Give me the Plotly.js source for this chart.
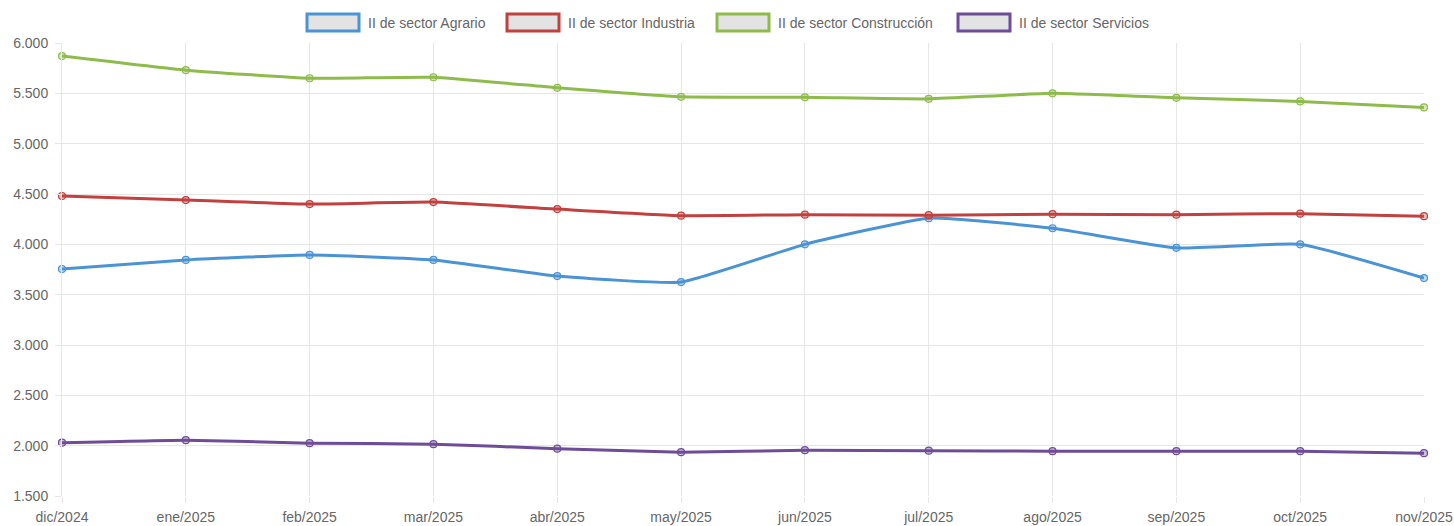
<!DOCTYPE html>
<html>
<head>
<meta charset="utf-8">
<script src="https://cdn.plot.ly/plotly-3.0.1.min.js"></script>
<style>
html,body{margin:0;padding:0;background:#fff;}
#chart{width:1454px;height:526px;}
</style>
</head>
<body>
<div id="chart"></div>
<script>
var categories = ["dic/2024","ene/2025","feb/2025","mar/2025","abr/2025","may/2025","jun/2025","jul/2025","ago/2025","sep/2025","oct/2025","nov/2025"];
var agrario      = [3755, 3845, 3895, 3845, 3685, 3625, 4000, 4260, 4160, 3965, 4000, 3665];
var industria    = [4480, 4440, 4400, 4420, 4350, 4285, 4295, 4290, 4300, 4295, 4305, 4280];
var construccion = [5870, 5730, 5650, 5660, 5555, 5465, 5460, 5445, 5500, 5455, 5420, 5360];
var servicios    = [2030, 2055, 2025, 2015, 1970, 1935, 1955, 1950, 1945, 1945, 1945, 1925];
var seriesNames  = ["II de sector Agrario","II de sector Industria","II de sector Construcción","II de sector Servicios"];
var seriesColors = ["#4a93d4","#c0413f","#8fbb4c","#6f4c98"];
var markerFills  = ["rgba(74,147,212,0.35)","rgba(192,65,63,0.35)","rgba(143,187,76,0.35)","rgba(111,76,152,0.35)"];

var seriesData = [agrario, industria, construccion, servicios];
var traces = seriesData.map(function(vals, i){
  return {
    type: "scatter",
    mode: "lines+markers",
    x: categories.map(function(c, k){ return k; }),
    y: vals,
    name: seriesNames[i],
    line: {color: seriesColors[i], width: 3, shape: "spline", smoothing: 0.4},
    marker: {size: 7, color: markerFills[i], line: {color: seriesColors[i], width: 1.2}},
    cliponaxis: false,
    showlegend: false
  };
});

// custom legend (Chart.js style boxes)
var W = 1454, H = 526, mL = 62, mR = 30, mT = 43, mB = 30;
var plotW = W - mL - mR, plotH = H - mT - mB;
function px(x){ return (x - mL) / plotW; }
function py(y){ return (H - mB - y) / plotH; }
var boxLeft = [307, 507, 717, 958];
var shapes = [], annotations = [];
for (var i = 0; i < 4; i++) {
  shapes.push({type:"rect", xref:"paper", yref:"paper",
    x0: px(boxLeft[i]), x1: px(boxLeft[i] + 52), y0: py(31), y1: py(14),
    fillcolor:"#e3e3e3", line:{color: seriesColors[i], width: 3}});
  annotations.push({xref:"paper", yref:"paper", x: px(boxLeft[i] + 59), y: py(22.5),
    xanchor:"left", yanchor:"middle", showarrow:false, text: seriesNames[i],
    font:{family:"Liberation Sans, Arial, sans-serif", size:14, color:"#666"}});
}

var layout = {
  width: W, height: H,
  margin: {l: mL, r: mR, t: mT, b: mB, pad: 0},
  paper_bgcolor: "#fff", plot_bgcolor: "#fff",
  separators: ",.",
  font: {family: "Liberation Sans, Arial, sans-serif", size: 14, color: "#666"},
  showlegend: false,
  xaxis: {
    range: [0, 11],
    tickmode: "array",
    tickvals: categories.map(function(c, k){ return k; }),
    ticktext: categories,
    showgrid: true, gridcolor: "#e6e6e6", gridwidth: 1,
    zeroline: false,
    showline: false,
    ticks: "outside", ticklen: 6, tickcolor: "#e6e6e6",
    ticklabelstandoff: 2,
    tickfont: {size: 14, color: "#666"}
  },
  yaxis: {
    range: [1500, 6000],
    dtick: 500, tick0: 1500,
    tickformat: ",d",
    showgrid: true, gridcolor: "#e6e6e6", gridwidth: 1,
    zeroline: false,
    showline: true, linecolor: "#e6e6e6",
    ticks: "outside", ticklen: 6, tickcolor: "#e6e6e6",
    ticklabelstandoff: 4,
    tickfont: {size: 14, color: "#666"}
  },
  shapes: shapes,
  annotations: annotations
};

Plotly.newPlot("chart", traces, layout, {displayModeBar: false, responsive: false});
</script>
</body>
</html>
